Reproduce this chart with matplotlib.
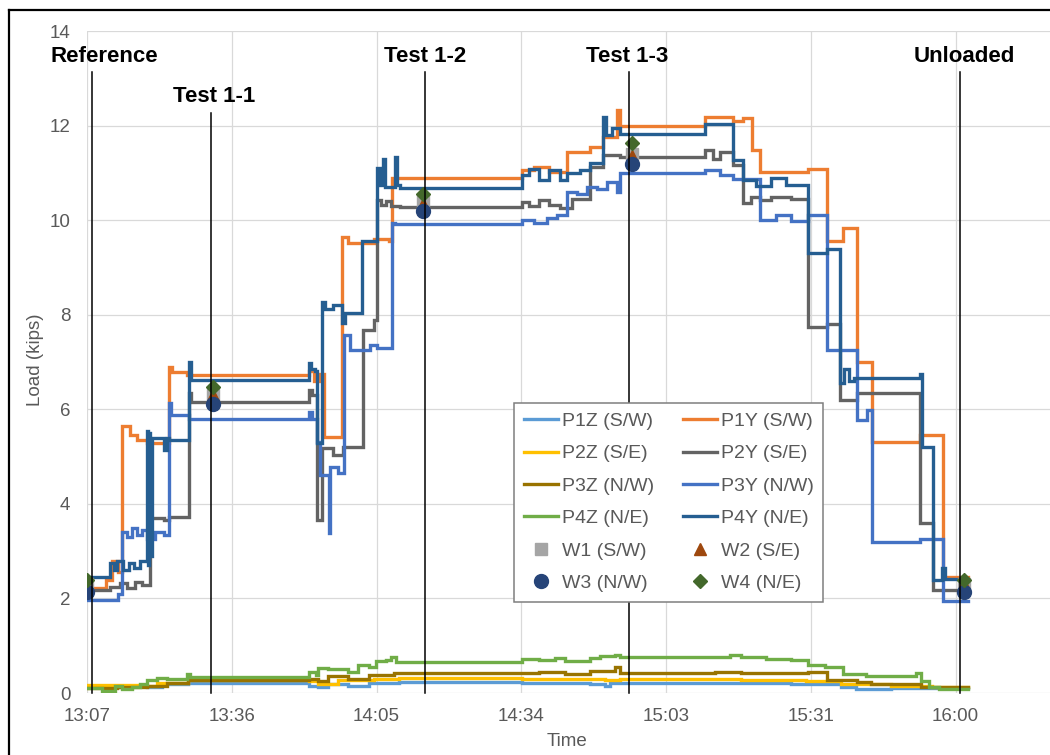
import matplotlib
matplotlib.use("Agg")
import matplotlib.pyplot as plt
from matplotlib.lines import Line2D

plt.rcParams['font.family'] = ['Liberation Sans', 'DejaVu Sans']

# ---------------- data (time = minutes after 13:07) ----------------
x_tick_labels = ["13:07", "13:36", "14:05", "14:34", "15:03", "15:31", "16:00"]
y_ticks = [0, 2, 4, 6, 8, 10, 12, 14]

p1y_t = [0, 3.8, 5.0, 6.2, 7.0, 8.5, 10.0, 11.9, 16.3, 17.0, 19.9, 44.1, 45.1, 46.3, 47.1, 50.7, 52.0, 57.0,
         60.0, 60.7, 86.5, 89, 92, 95.4, 100.1, 102.6, 105.4, 106.0, 122.9, 128.5, 130.5, 132.3, 133.9, 143.4,
         147.2, 150.4, 153.2, 156.1, 165.7, 170.3, 175.3]
p1y_v = [2.22, 2.4, 2.8, 2.55, 5.65, 5.45, 5.35, 5.28, 6.9, 6.78, 6.72, 6.82, 6.6, 6.75, 5.42, 9.65, 9.52, 9.6,
         9.55, 10.9, 11.05, 11.12, 11.02, 11.44, 11.55, 11.75, 12.33, 12.0, 12.18, 12.1, 12.15, 11.48, 11.02, 11.09,
         9.55, 9.83, 7.0, 5.31, 5.45, 2.45, 2.39]

p2y_t = [0, 4.6, 6.5, 8.0, 9.5, 11.0, 12.5, 15.3, 16.3, 20.2, 20.6, 44.1, 44.8, 45.8, 46.7, 49.0, 51.0, 54.9,
         57.0, 57.7, 58.5, 59.5, 60.5, 62.3, 86.5, 88, 90, 92, 94, 96.5, 100.1, 102.6, 106.0, 122.9, 124.5, 126,
         128.5, 130.5, 132.0, 133.9, 136, 140, 143.4, 147.2, 149.8, 153.2, 165.7, 168.3, 175.3]
p2y_v = [2.18, 2.25, 2.32, 2.22, 2.35, 2.28, 3.7, 3.65, 3.73, 6.35, 6.16, 6.4, 6.3, 3.66, 5.18, 5.03, 5.2, 7.67,
         7.89, 10.42, 10.32, 10.4, 10.3, 10.28, 10.38, 10.3, 10.42, 10.32, 10.25, 10.45, 11.13, 11.37, 11.34, 11.48,
         11.3, 11.45, 11.16, 10.36, 10.5, 10.42, 10.5, 10.45, 7.74, 7.8, 6.19, 6.34, 3.59, 2.18, 2.18]

p3y_t = [0, 6.2, 7.0, 8.0, 9.0, 10.0, 11.0, 12.0, 13.5, 15.3, 16.3, 16.8, 20.2, 44.1, 44.8, 45.8, 46.3, 48.1,
         48.3, 50.0, 51.1, 52.3, 56.3, 57.7, 60.7, 61.3, 86.5, 89, 91.5, 93.5, 95.5, 97.5, 99.5, 101.5, 103.5,
         105.4, 106.0, 122.9, 126, 128.5, 133.9, 137, 140, 143.4, 147.2, 153.2, 155.2, 156.1, 165.7, 170.3, 175.3]
p3y_v = [1.97, 2.1, 3.41, 3.3, 3.5, 3.35, 3.45, 3.25, 3.4, 3.35, 6.13, 5.88, 5.79, 5.95, 5.8, 5.3, 4.6, 3.38,
         4.78, 4.65, 7.57, 7.25, 7.35, 7.3, 9.93, 9.91, 10.0, 9.95, 10.05, 10.1, 10.6, 10.55, 10.7, 10.65, 10.8,
         10.6, 10.99, 11.05, 10.95, 10.88, 10.0, 10.1, 9.98, 10.1, 7.25, 5.77, 5.98, 3.2, 3.25, 1.95, 1.95]

p4y_t = [0, 4.6, 5.3, 6.0, 7.2, 8.3, 9.4, 10.5, 11.9, 12.2, 12.4, 12.6, 12.9, 15.3, 16.0, 16.3, 20.2, 20.6,
         44.1, 44.6, 45.3, 45.8, 46.7, 47.3, 49.0, 50.7, 51.4, 54.7, 57.7, 58.3, 58.9, 59.3, 61.3, 61.7, 62.3,
         86.5, 88.0, 90.0, 92.0, 94.0, 95.5, 98.0, 100.1, 102.6, 103.2, 104.5, 106.0, 122.9, 128.5, 130.5, 133.0,
         136.0, 139.0, 143.4, 147.2, 149.8, 150.5, 151.5, 152.5, 165.7, 166.1, 168.3, 170.0, 170.6, 175.3]
p4y_v = [2.46, 2.75, 2.6, 2.8, 2.6, 2.75, 2.65, 2.8, 5.55, 2.7, 5.5, 2.9, 5.39, 5.14, 5.4, 5.35, 7.0, 6.62,
         6.97, 6.85, 6.8, 5.28, 8.27, 8.13, 8.2, 7.82, 8.03, 9.55, 11.1, 10.75, 11.3, 10.7, 11.33, 10.75, 10.67,
         10.95, 11.08, 10.85, 11.05, 10.85, 11.0, 11.05, 11.2, 12.18, 11.8, 11.95, 11.83, 12.04, 11.27, 10.85, 10.72,
         10.9, 10.75, 9.3, 9.4, 6.55, 6.85, 6.6, 6.66, 6.75, 5.21, 2.39, 2.65, 2.42, 2.42]

p1z_t = [0, 6, 9, 12, 15, 20, 44.1, 46, 48, 52, 56, 62, 86.5, 100, 103, 104, 140, 150, 153, 160, 175.3]
p1z_v = [0.15, 0.12, 0.15, 0.12, 0.2, 0.22, 0.15, 0.12, 0.2, 0.15, 0.22, 0.24, 0.22, 0.2, 0.15, 0.22, 0.2,
         0.12, 0.08, 0.1, 0.1]

p2z_t = [0, 10, 14, 20, 44.1, 46, 50, 57, 62, 86.5, 103, 106, 130, 143, 150, 160, 168, 175.3]
p2z_v = [0.17, 0.15, 0.22, 0.27, 0.25, 0.2, 0.28, 0.3, 0.32, 0.3, 0.28, 0.3, 0.28, 0.25, 0.2, 0.15, 0.12, 0.12]

p3z_t = [0, 6, 12, 16, 20, 44.1, 46, 48, 52, 56, 61, 86.5, 90, 95, 100, 105, 106, 125, 130, 143.4, 147.2,
         153.2, 156, 166, 175.3]
p3z_v = [0.1, 0.12, 0.15, 0.22, 0.27, 0.3, 0.25, 0.35, 0.3, 0.38, 0.42, 0.42, 0.45, 0.4, 0.47, 0.55, 0.42,
         0.45, 0.42, 0.45, 0.28, 0.24, 0.2, 0.13, 0.13]

p4z_t = [0, 3, 5.5, 7, 9, 10.5, 12, 14, 16, 19.9, 20.5, 44.1, 45.5, 46, 48, 52, 54, 56, 57.5, 59.5, 60.5,
         61.5, 86.5, 90, 93, 95, 100, 102, 105, 106, 128, 130, 135, 140, 143.4, 146.8, 150.3, 155, 165, 166,
         167.5, 169.5, 175.3]
p4z_v = [0.1, 0.05, 0.15, 0.08, 0.12, 0.2, 0.28, 0.32, 0.3, 0.4, 0.33, 0.45, 0.38, 0.52, 0.5, 0.45, 0.6, 0.55,
         0.68, 0.7, 0.77, 0.65, 0.72, 0.7, 0.75, 0.68, 0.75, 0.78, 0.8, 0.77, 0.8, 0.76, 0.72, 0.7, 0.6, 0.55,
         0.4, 0.35, 0.42, 0.25, 0.12, 0.08, 0.08]

w_t = [0.0, 25.1, 66.8, 108.4, 174.4]
w1_v = [2.30, 6.30, 10.40, 11.40, 2.30]
w2_v = [2.25, 6.30, 10.35, 11.35, 2.30]
w3_v = [2.14, 6.11, 10.20, 11.18, 2.14]
w4_v = [2.39, 6.48, 10.56, 11.63, 2.39]

event_names = ["Reference", "Test 1-1", "Test 1-2", "Test 1-3", "Unloaded"]
event_t = [0.9, 24.6, 67.2, 107.8, 173.6]
event_top = [13.14, 12.27, 13.14, 13.14, 13.14]

# ---------------- styling ----------------
C = dict(P1Z='#5B9BD5', P1Y='#ED7D31', P2Z='#FFC000', P2Y='#636363', P3Z='#997300', P3Y='#4472C4',
         P4Z='#70AD47', P4Y='#255E91', W1='#A5A5A5', W2='#9E480E', W3='#264478', W4='#43682B')
GRAY_TXT = '#595959'
FS = 13.5

W, H = 1050, 755
fig = plt.figure(figsize=(W / 100, H / 100), dpi=100)
ax_l, ax_r, ax_t, ax_b = 87, 1050, 31, 693
ax = fig.add_axes([ax_l / W, (H - ax_b) / H, (ax_r - ax_l) / W, (ax_b - ax_t) / H])

MIN_PER_TICK = 28.8
PX_PER_MIN = 5.027
ax.set_xlim(0, (ax_r - ax_l) / PX_PER_MIN)
ax.set_ylim(0, 14)
ax.set_xticks([i * MIN_PER_TICK for i in range(len(x_tick_labels))])
ax.set_xticklabels(x_tick_labels)
ax.set_yticks(y_ticks)
ax.tick_params(length=0, labelsize=FS, labelcolor=GRAY_TXT)
ax.tick_params(axis='y', pad=12)
ax.tick_params(axis='x', pad=11)
for s in ax.spines.values():
    s.set_visible(False)
ax.grid(True, color='#D9D9D9', lw=0.9)
ax.set_axisbelow(True)

series = [
    ('P1Z (S/W)', p1z_t, p1z_v, C['P1Z']),
    ('P1Y (S/W)', p1y_t, p1y_v, C['P1Y']),
    ('P2Z (S/E)', p2z_t, p2z_v, C['P2Z']),
    ('P2Y (S/E)', p2y_t, p2y_v, C['P2Y']),
    ('P3Z (N/W)', p3z_t, p3z_v, C['P3Z']),
    ('P3Y (N/W)', p3y_t, p3y_v, C['P3Y']),
    ('P4Z (N/E)', p4z_t, p4z_v, C['P4Z']),
    ('P4Y (N/E)', p4y_t, p4y_v, C['P4Y']),
]
handles = {}
for name, t, v, col in series:
    ln, = ax.plot(t, v, drawstyle='steps-post', color=col, lw=2.4, label=name, solid_joinstyle='miter')
    handles[name] = ln

markers = [
    ('W1 (S/W)', w1_v, C['W1'], 's', 9),
    ('W2 (S/E)', w2_v, C['W2'], '^', 9),
    ('W3 (N/W)', w3_v, C['W3'], 'o', 10),
    ('W4 (N/E)', w4_v, C['W4'], 'D', 7),
]
for name, v, col, m, ms in markers:
    ln, = ax.plot(w_t, v, ls='none', marker=m, ms=ms, color=col, mec=col, label=name, zorder=4)
    handles[name] = ln

for t, top in zip(event_t, event_top):
    ax.plot([t, t], [0, top], color='black', lw=1.1, zorder=5, clip_on=False)

label_t = [3.38, 25.2, 67.2, 107.4, 174.5]
label_y = [13.35, 12.5, 13.35, 13.35, 13.35]
for name, t, y in zip(event_names, label_t, label_y):
    ax.text(t, y, name, ha='center', va='baseline', fontsize=16, fontweight='bold', color='black',
            zorder=6, clip_on=False)

order = ['P1Z (S/W)', 'P2Z (S/E)', 'P3Z (N/W)', 'P4Z (N/E)', 'W1 (S/W)', 'W3 (N/W)',
         'P1Y (S/W)', 'P2Y (S/E)', 'P3Y (N/W)', 'P4Y (N/E)', 'W2 (S/E)', 'W4 (N/E)']
LFS = 14
leg = ax.legend([handles[k] for k in order], order, ncol=2, loc='upper left',
                bbox_to_anchor=((514 - ax_l) / (ax_r - ax_l), (ax_b - 402.7) / (ax_b - ax_t)),
                borderaxespad=0, fontsize=LFS, frameon=True, fancybox=False, edgecolor='#7F7F7F',
                framealpha=1, handlelength=1.75, handletextpad=0.2, columnspacing=1.5,
                labelspacing=0.76, borderpad=0.5)
leg.get_frame().set_linewidth(1.1)
for txt in leg.get_texts():
    txt.set_color(GRAY_TXT)
leg.set_zorder(7)

fig.text(35 / W, (H - 360) / H, 'Load (kips)', rotation=90, ha='center', va='center',
         fontsize=FS, color=GRAY_TXT)
fig.text(566.7 / W, (H - 742) / H, 'Time', ha='center', va='center', fontsize=FS, color=GRAY_TXT)

# outer border (cropped at right and bottom)
fig.add_artist(Line2D([9 / W, 9 / W], [0, (H - 10) / H], color='black', lw=1.6))
fig.add_artist(Line2D([9 / W, 1], [(H - 10) / H, (H - 10) / H], color='black', lw=1.6))

fig.savefig('out.png', dpi=100)
